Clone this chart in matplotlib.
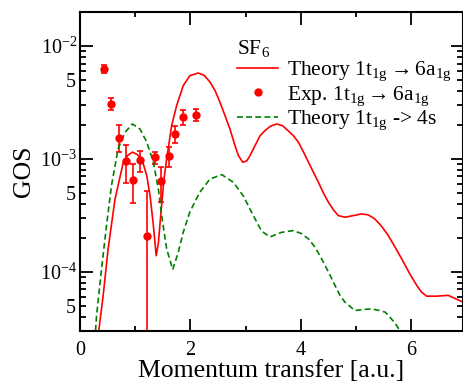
import numpy as np
import matplotlib
matplotlib.use("Agg")
import matplotlib.pyplot as plt
from matplotlib.lines import Line2D
from matplotlib.ticker import LogLocator, FixedLocator, FuncFormatter

plt.rcParams["font.family"] = ["Liberation Serif", "DejaVu Serif"]
plt.rcParams["mathtext.fontset"] = "custom"
plt.rcParams["mathtext.rm"] = "Liberation Serif"
plt.rcParams["mathtext.it"] = "Liberation Serif:italic"
plt.rcParams["mathtext.bf"] = "Liberation Serif:bold"

# Theory 1t1g -> 6a1g (red solid)
x_6a = [0.32, 0.42, 0.51, 0.634, 0.785, 0.87, 0.95, 1.03, 1.12, 1.21, 1.27, 1.33, 1.38, 1.42,
        1.47, 1.52, 1.57, 1.66, 1.75, 1.87, 1.99, 2.14, 2.25, 2.355, 2.45, 2.536, 2.63, 2.717,
        2.80, 2.87, 2.95, 3.02, 3.08, 3.17, 3.26, 3.35, 3.45, 3.56, 3.67, 3.77, 3.87, 3.955,
        4.05, 4.14, 4.23, 4.32, 4.41, 4.50, 4.59, 4.68, 4.80, 4.95, 5.10, 5.22, 5.34, 5.46,
        5.585, 5.71, 5.83, 5.98, 6.10, 6.19, 6.28, 6.46, 6.67, 6.80, 6.94]
y_6a = [2.5e-5, 6.2e-5, 1.6e-4, 4.4e-4, 9.35e-4, 1.08e-3, 1.15e-3, 1.1e-3, 1.0e-3, 7.1e-4,
        4.7e-4, 2.57e-4, 1.39e-4, 1.8e-4, 3.5e-4, 6.5e-4, 1.0e-3, 1.97e-3, 2.96e-3, 4.46e-3,
        5.46e-3, 5.77e-3, 5.5e-3, 4.8e-3, 4.0e-3, 3.18e-3, 2.4e-3, 1.84e-3, 1.35e-3, 1.07e-3,
        9.35e-4, 9.6e-4, 1.07e-3, 1.31e-3, 1.6e-3, 1.78e-3, 1.95e-3, 2.04e-3, 1.97e-3,
        1.78e-3, 1.6e-3, 1.41e-3, 1.15e-3, 9.35e-4, 7.6e-4, 6.2e-4, 5.0e-4, 4.14e-4, 3.55e-4,
        3.15e-4, 3.05e-4, 3.15e-4, 3.26e-4, 3.2e-4, 2.95e-4, 2.55e-4, 2.1e-4, 1.65e-4, 1.3e-4,
        9.5e-5, 7.6e-5, 6.6e-5, 6.1e-5, 6.1e-5, 6.2e-5, 5.8e-5, 5.4e-5]

# Theory 1t1g -> 4s (green dashed)
x_4s = [0.27, 0.30, 0.39, 0.48, 0.57, 0.69, 0.815, 0.95, 1.087, 1.21, 1.33, 1.42, 1.48, 1.57,
        1.68, 1.78, 1.87, 1.99, 2.17, 2.355, 2.57, 2.78, 2.96, 3.14, 3.29, 3.44, 3.65, 3.86,
        4.00, 4.14, 4.26, 4.38, 4.50, 4.62, 4.71, 4.80, 4.98, 5.13, 5.28, 5.43, 5.53, 5.63,
        5.71, 5.80, 5.86]
y_4s = [2.5e-5, 4.1e-5, 1.06e-4, 2.57e-4, 5.8e-4, 1.23e-3, 1.72e-3, 2.04e-3, 1.84e-3,
        1.41e-3, 9.35e-4, 5.4e-4, 3.15e-4, 1.6e-4, 1.05e-4, 1.49e-4, 2.24e-4, 3.4e-4, 5.07e-4,
        6.65e-4, 7.26e-4, 6.2e-4, 4.7e-4, 3.15e-4, 2.3e-4, 2.04e-4, 2.24e-4, 2.32e-4, 2.2e-4,
        1.96e-4, 1.65e-4, 1.3e-4, 1.0e-4, 7.6e-5, 6.2e-5, 5.4e-5, 4.55e-5, 4.65e-5, 4.7e-5,
        4.55e-5, 4.4e-5, 3.9e-5, 3.5e-5, 3.0e-5, 2.5e-5]

# Experiment 1t1g -> 6a1g
x_exp = [0.435, 0.56, 0.70, 0.83, 0.955, 1.087, 1.21, 1.35, 1.47, 1.61, 1.73, 1.86, 2.11]
y_exp = [6.25e-3, 3.07e-3, 1.53e-3, 9.66e-4, 6.5e-4, 9.8e-4, 2.07e-4, 1.035e-3, 6.35e-4,
         1.07e-3, 1.66e-3, 2.37e-3, 2.45e-3]
y_exp_hi = [6.8e-3, 3.47e-3, 2.0e-3, 1.33e-3, 9.0e-4, 1.18e-3, 5.2e-4, 1.15e-3, 8.45e-4,
            1.27e-3, 1.95e-3, 2.72e-3, 2.77e-3]
y_exp_lo = [5.77e-3, 2.72e-3, 1.15e-3, 6.14e-4, 4.07e-4, 7.7e-4, 1e-6, 9.0e-4, 4.14e-4,
            8.45e-4, 1.39e-3, 2.0e-3, 2.17e-3]

red = "#ff0000"
green = "#008000"
arrow = r"$\mathbf{\rightarrow}$"

fig = plt.figure(figsize=(4.64, 3.88), dpi=100)
ax = fig.add_axes([0.1724, 0.147, 0.8256, 0.822])

ax.plot(x_6a, y_6a, color=red, lw=1.2)
y_exp = np.array(y_exp)
yerr = [y_exp - np.array(y_exp_lo), np.array(y_exp_hi) - y_exp]
ax.errorbar(x_exp, y_exp, yerr=yerr, fmt="o", color=red, ms=5, elinewidth=1.2,
            capsize=2.5, capthick=1.2)
ax.plot(x_4s, y_4s, color=green, lw=1.2, ls=(0, (3.5, 2)))

ax.set_yscale("log")
ax.set_xlim(0, 6.94)
ax.set_ylim(3.0e-5, 2.0e-2)

ax.xaxis.set_major_locator(FixedLocator([0, 2, 4, 6]))
ax.xaxis.set_minor_locator(FixedLocator([1, 3, 5]))
ax.yaxis.set_major_locator(LogLocator(base=10))
ax.yaxis.set_minor_locator(LogLocator(base=10, subs=np.arange(2, 10)))


def minor_fmt(v, pos):
    m = v / 10 ** np.floor(np.log10(v) + 1e-9)
    return "5" if abs(m - 5) < 0.01 else ""


ax.yaxis.set_minor_formatter(FuncFormatter(minor_fmt))
ax.yaxis.set_major_formatter(FuncFormatter(lambda v, p: r"10$^{%d}$" % round(np.log10(v))))

ax.tick_params(which="both", direction="in", top=True, right=True, width=1.3, labelsize=14.5)
ax.tick_params(which="major", length=9)
ax.tick_params(which="minor", length=4.5)
ax.tick_params(axis="x", which="minor", length=3.5)
ax.tick_params(axis="x", pad=7)
ax.tick_params(axis="y", pad=2)
for s in ax.spines.values():
    s.set_linewidth(1.5)

ax.set_xlabel("Momentum transfer [a.u.]", fontsize=18.5, labelpad=0)
ax.set_ylabel("GOS", fontsize=18.5, labelpad=4)

handles = [
    Line2D([], [], color=red, lw=1.2),
    Line2D([], [], color=red, ls="none", marker="o", ms=5),
    Line2D([], [], color=green, lw=1.2, ls=(0, (3.5, 2))),
]
labels = [
    "Theory 1t$_\\mathrm{1g}$" + arrow + "6a$_\\mathrm{1g}$",
    "Exp. 1t$_\\mathrm{1g}$" + arrow + "6a$_\\mathrm{1g}$",
    "Theory 1t$_\\mathrm{1g}$ -> 4s",
]
leg = ax.legend(handles, labels, loc="upper left", bbox_to_anchor=(0.41, 0.92), frameon=False,
                fontsize=15.5, title=r"SF$_6$", title_fontsize=15.5, alignment="left",
                handlelength=1.9, handletextpad=0.4, labelspacing=0.05, borderpad=0,
                borderaxespad=0)

fig.savefig("out.png", dpi=100)
